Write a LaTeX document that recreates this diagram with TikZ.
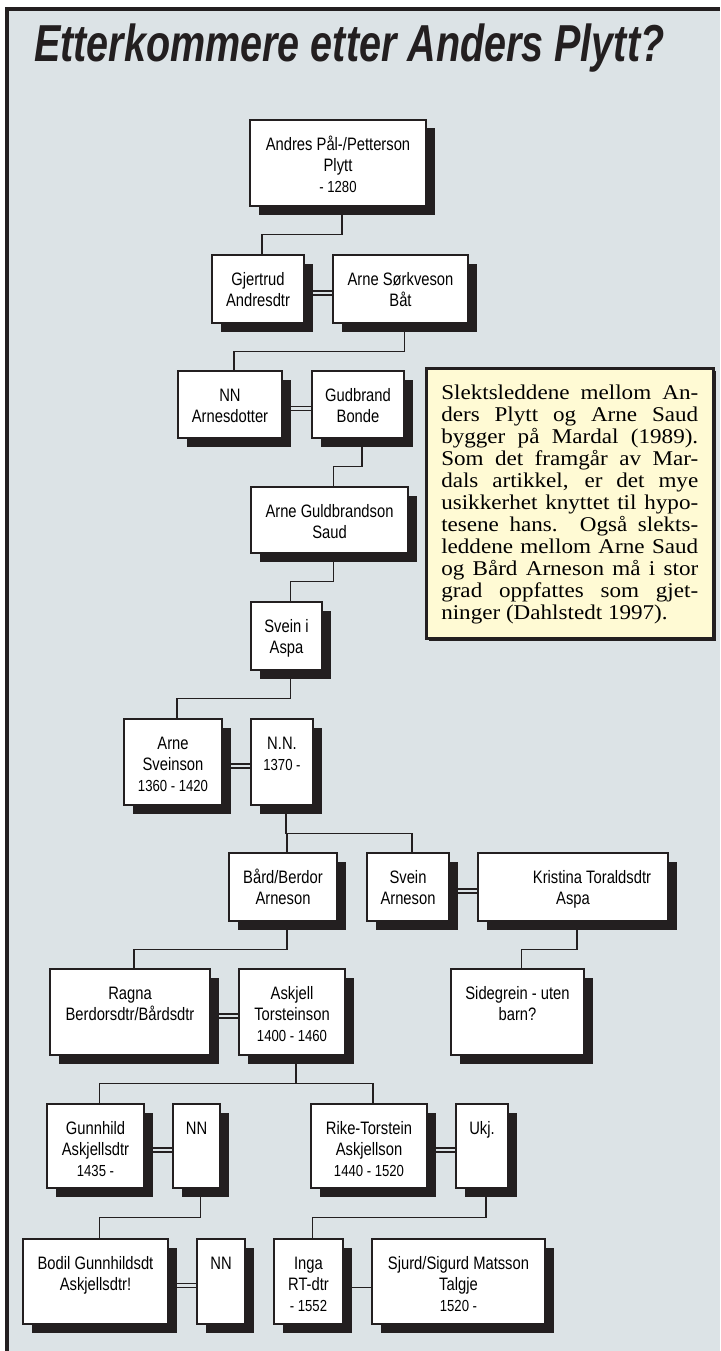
\documentclass[tikz,border=0pt]{standalone}
\usepackage{fontspec}
\setmainfont{Liberation Sans}
\newfontface\titlefont[FakeStretch=0.76]{Liberation Sans Bold Italic}
\newfontfamily\namefont[FakeStretch=0.82]{Liberation Sans}
\newfontfamily\notefont[FakeStretch=1.1]{Liberation Serif}
\usetikzlibrary{shadows,calc}
\definecolor{bgc}{RGB}{220,227,230}
\definecolor{ink}{RGB}{35,31,32}
\definecolor{notec}{RGB}{255,250,212}
\pgfdeclarelayer{bg}
\pgfsetlayers{bg,main}
\tikzset{
  fam/.style={draw=ink, line width=1.3pt, fill=white, inner sep=0pt, outer sep=0pt, anchor=north west,
    drop shadow={shadow xshift=8.5pt, shadow yshift=-8.5pt, fill=ink, opacity=1}},
  notebox/.style={draw=ink, line width=2.5pt, fill=notec, inner xsep=15pt, inner ysep=0pt, anchor=north west,
    drop shadow={shadow xshift=2.5pt, shadow yshift=-2.5pt, fill=ink, opacity=1}},
  conn/.style={draw=ink, line width=1.5pt},
  wed/.style={draw=ink, line width=1.3pt, double=bgc, double distance=2.7pt},
  single/.style={draw=ink, line width=1.5pt},
  titlestyle/.style={font=\titlefont\fontsize{52}{60}\selectfont, text=ink, anchor=base west, inner sep=0pt}
}
\newcommand\yrs[1]{{\fontsize{16}{21}\selectfont #1}}
\newcommand\fambox[6]{%
  \pgfmathsetmacro\fbw{#4-#2}%
  \pgfmathsetmacro\fbh{#5-#3}%
  \node[fam] (#1) at (#2pt,-#3pt) {\parbox[t][\fbh pt][t]{\fbw pt}{\centering\namefont\fontsize{18}{21}\selectfont\rule{0pt}{30.5pt}#6\par}};%
}
\newcommand\noteline[1]{\makebox[257pt][s]{#1}\\}
\begin{document}
\begin{tikzpicture}[x=1pt,y=-1pt]
\useasboundingbox (0,0) rectangle (720,1351);

\node[titlestyle] (title) at (34,62) {Etterkommere etter Anders Plytt?};

\fambox{andres}{250}{120}{426}{206}{Andres Pål-/Petterson\\Plytt\\\yrs{- 1280}}
\fambox{gjertrud}{212}{255}{304}{323}{Gjertrud\\Andresdtr}
\fambox{arnes}{333}{255}{468}{323}{Arne Sørkveson\\Båt}
\fambox{nnarnes}{178}{371}{282}{438}{NN\\Arnesdotter}
\fambox{gudbrand}{312}{371}{404}{438}{Gudbrand\\Bonde}
\fambox{arneg}{251}{487}{408}{553}{Arne Guldbrandson\\Saud}
\fambox{sveinaspa}{251}{602}{322}{670}{Svein i\\Aspa}
\fambox{arnesv}{124}{719}{222}{805}{Arne\\Sveinson\\\yrs{1360 - 1420}}
\fambox{nnb}{251}{719}{313}{805}{N.N.\\\yrs{1370 -}}
\fambox{bard}{229}{853}{337}{921}{Bård/Berdor\\Arneson}
\fambox{sveinarn}{367}{853}{449}{921}{Svein\\Arneson}
\fambox{kristina}{478}{853}{668}{921}{\hspace*{38pt}Kristina Toraldsdtr\\Aspa}
\fambox{ragna}{50}{969}{210}{1055}{Ragna\\Berdorsdtr/Bårdsdtr}
\fambox{askjell}{239}{969}{345}{1055}{Askjell\\Torsteinson\\\yrs{1400 - 1460}}
\fambox{sidegrein}{451}{969}{584}{1055}{Sidegrein - uten\\barn?}
\fambox{gunnhild}{47}{1104}{144}{1188}{Gunnhild\\Askjellsdtr\\\yrs{1435 -}}
\fambox{nnc}{173}{1104}{220}{1188}{NN}
\fambox{rike}{311}{1104}{427}{1188}{Rike-Torstein\\Askjellson\\\yrs{1440 - 1520}}
\fambox{ukj}{456}{1104}{508}{1188}{Ukj.}
\fambox{bodil}{23}{1239}{168}{1324}{Bodil Gunnhildsdt\\Askjellsdtr!}
\fambox{nnd}{197}{1239}{245}{1324}{NN}
\fambox{inga}{274}{1239}{343}{1324}{Inga\\RT-dtr\\\yrs{- 1552}}
\fambox{sjurd}{372}{1239}{545}{1324}{Sjurd/Sigurd Matsson\\Talgje\\\yrs{1520 -}}

\node[notebox] (note) at (425,367) {\parbox[t][270pt][t]{257pt}{\notefont\fontsize{21}{22}\selectfont\rule{0pt}{31pt}%
\noteline{Slektsleddene mellom An-}%
\noteline{ders Plytt og Arne Saud}%
\noteline{bygger på Mardal (1989).}%
\noteline{Som det framgår av Mar-}%
\noteline{dals artikkel, er det mye}%
\noteline{usikkerhet knyttet til hypo-}%
\noteline{tesene hans. Også slekts-}%
\noteline{leddene mellom Arne Saud}%
\noteline{og Bård Arneson må i stor}%
\noteline{grad oppfattes som gjet-}%
ninger (Dahlstedt 1997).\par}};

\begin{pgfonlayer}{bg}
  \fill[bgc] (5,8) rectangle (720,1351);
  \draw[ink, line width=3.5pt] (7,1351) -- (7,9) -- (720,9);
  % descent connectors
  \draw[conn] ([xshift=4pt]andres.south) -- ++(0,28.5) -| ([xshift=4pt]gjertrud.north);
  \draw[conn] ([xshift=4pt]arnes.south) -- ++(0,28.5) -| ([xshift=4pt]nnarnes.north);
  \draw[conn] ([xshift=4pt]gudbrand.south) -- ++(0,28.5) -| ([xshift=4pt]arneg.north);
  \draw[conn] ([xshift=4pt]arneg.south) -- ++(0,28.5) -| ([xshift=4pt]sveinaspa.north);
  \draw[conn] ([xshift=4pt]sveinaspa.south) -- ++(0,28.5) -| ([xshift=4pt]arnesv.north);
  \draw[conn] ([xshift=4pt]nnb.south) -- ++(0,28.5) coordinate (j1) -| ([xshift=4pt]bard.north);
  \draw[conn] (j1) -| ([xshift=4pt]sveinarn.north);
  \draw[conn] ([xshift=4pt]bard.south) -- ++(0,28.5) -| ([xshift=4pt]ragna.north);
  \draw[conn] ([xshift=4pt]kristina.south) -- ++(0,28.5) -| ([xshift=4pt]sidegrein.north);
  \draw[conn] ([xshift=4pt]askjell.south) -- ++(0,28.5) coordinate (j2) -| ([xshift=4pt]gunnhild.north);
  \draw[conn] (j2) -| ([xshift=4pt]rike.north);
  \draw[conn] ([xshift=4pt]nnc.south) -- ++(0,29.5) -| ([xshift=4pt]bodil.north);
  \draw[conn] ([xshift=4pt]ukj.south) -- ++(0,29.5) -| ([xshift=4pt]inga.north);
  % marriages
  \draw[wed] ([yshift=-4pt]gjertrud.east) -- ([yshift=-4pt]arnes.west);
  \draw[wed] ([yshift=-4pt]nnarnes.east) -- ([yshift=-4pt]gudbrand.west);
  \draw[wed] ([yshift=-4pt]arnesv.east) -- ([yshift=-4pt]nnb.west);
  \draw[wed] ([yshift=-4pt]sveinarn.east) -- ([yshift=-4pt]kristina.west);
  \draw[wed] ([yshift=-4pt]ragna.east) -- ([yshift=-4pt]askjell.west);
  \draw[wed] ([yshift=-4pt]gunnhild.east) -- ([yshift=-4pt]nnc.west);
  \draw[wed] ([yshift=-4pt]rike.east) -- ([yshift=-4pt]ukj.west);
  \draw[wed] ([yshift=-4pt]bodil.east) -- ([yshift=-4pt]nnd.west);
  \draw[single] ([yshift=-6pt]inga.east) -- ([yshift=-6pt]sjurd.west);
\end{pgfonlayer}
\end{tikzpicture}
\end{document}
